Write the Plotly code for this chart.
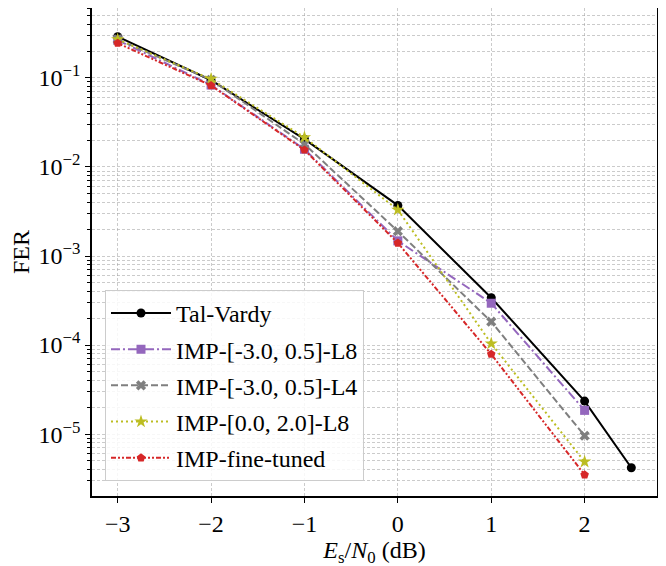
import plotly.graph_objects as go

# Es/N0 points (dB)
snr_tv = [-3, -2, -1, 0, 1, 2, 2.5]
snr_imp = [-3, -2, -1, 0, 1, 2]

# frame error rates
fer_tal_vardy = [0.29, 0.094, 0.0205, 0.0037, 3.4e-4, 2.35e-5, 4.2e-6]
fer_l8_wide = [0.265, 0.083, 0.0158, 1.48e-3, 2.95e-4, 1.85e-5]
fer_l4_wide = [0.27, 0.095, 0.018, 1.9e-3, 1.83e-4, 9.6e-6]
fer_l8_narrow = [0.27, 0.097, 0.0215, 3.3e-3, 1.04e-4, 4.9e-6]
fer_fine_tuned = [0.245, 0.082, 0.0155, 1.4e-3, 7.9e-5, 3.5e-6]

x_ticks = [-3, -2, -1, 0, 1, 2]
x_ticktext = ["\u22123", "\u22122", "\u22121", "0", "1", "2"]
y_ticks = [1e-1, 1e-2, 1e-3, 1e-4, 1e-5]
y_ticktext = ["10<sup>\u22121</sup>", "10<sup>\u22122</sup>", "10<sup>\u22123</sup>",
              "10<sup>\u22124</sup>", "10<sup>\u22125</sup>"]
# minor log ticks 2..9 in every decade
y_minor = [m * 10.0 ** e for e in range(-6, 0) for m in range(2, 10)]

series = [
    ("Tal-Vardy", snr_tv, fer_tal_vardy, "black", "solid", "circle", 9),
    ("IMP-[-3.0, 0.5]-L8", snr_imp, fer_l8_wide, "#9467bd", "9px,3px,2px,3px", "square", 9),
    ("IMP-[-3.0, 0.5]-L4", snr_imp, fer_l4_wide, "#7f7f7f", "7px,3px", "x", 9),
    ("IMP-[0.0, 2.0]-L8", snr_imp, fer_l8_narrow, "#bcbd22", "2px,3px", "star", 10),
    ("IMP-fine-tuned", snr_imp, fer_fine_tuned, "#d62728", "5px,2px,2px,2px,2px,2px", "pentagon", 9),
]

FONT = "Liberation Serif"
FS = 24

fig = go.Figure()
for i, (name, xs, ys, col, dash, sym, ms) in enumerate(series):
    fig.add_trace(go.Scatter(x=xs, y=ys, name=name, mode="lines+markers",
                             legendgroup="g%d" % i,
                             line=dict(color=col, width=2, dash=dash),
                             marker=dict(symbol=sym, size=ms, color=col, line=dict(width=0))))

grid_col = "rgba(160,160,160,0.55)"
grid_dash = "3px,2px"

fig.update_xaxes(range=[-3.275, 2.775], tickvals=x_ticks, ticktext=x_ticktext,
                 ticks="outside", ticklen=5, tickcolor="black",
                 showline=True, linecolor="black", linewidth=1.5, mirror=True,
                 showgrid=True, gridcolor=grid_col, gridwidth=0.7, griddash=grid_dash,
                 zeroline=False, automargin=False,
                 tickfont=dict(family=FONT, size=FS, color="black"),
                 title=dict(text="<i>E</i><sub>s</sub>/<i>N</i><sub>0</sub> (dB)",
                            font=dict(family=FONT, size=FS, color="black"), standoff=0))
fig.update_yaxes(type="log", range=[-5.694, -0.216], tickvals=y_ticks, ticktext=y_ticktext,
                 ticks="outside", ticklen=5, tickcolor="black",
                 showline=True, linecolor="black", linewidth=1.5, mirror=True,
                 showgrid=True, gridcolor=grid_col, gridwidth=0.7, griddash=grid_dash,
                 minor=dict(tickmode="array", tickvals=y_minor,
                            ticks="outside", ticklen=3, tickcolor="black", showgrid=True,
                            gridcolor=grid_col, gridwidth=0.6, griddash=grid_dash),
                 zeroline=False, automargin=False,
                 tickfont=dict(family=FONT, size=FS, color="black"),
                 title=dict(text="FER", font=dict(family=FONT, size=FS, color="black"), standoff=2))

fig.update_layout(
    width=666, height=566,
    margin=dict(l=84, r=17, t=0, b=78, autoexpand=False),
    plot_bgcolor="white", paper_bgcolor="white",
    font=dict(family=FONT, size=FS, color="black"),
    legend=dict(x=0.023, y=0.031, xanchor="left", yanchor="bottom",
                bgcolor="rgba(255,255,255,0.85)", bordercolor="#cccccc", borderwidth=1,
                font=dict(family=FONT, size=FS, color="black"),
                traceorder="grouped", tracegroupgap=2, itemwidth=60),
)

fig.write_html("out.html")
